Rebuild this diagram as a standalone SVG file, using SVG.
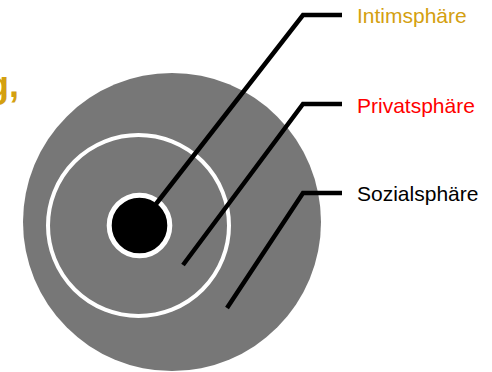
<svg xmlns="http://www.w3.org/2000/svg" width="492" height="372" viewBox="0 0 492 372">
  <style>
    .lbl { font-family: "Liberation Sans", Arial, sans-serif; font-size: 21px; }
    .lead { fill: none; stroke: #000; stroke-width: 4.5; stroke-linejoin: miter; stroke-linecap: butt; }
  </style>
  <rect width="492" height="372" fill="#fff"/>
  <text x="-13" y="97" font-family="Liberation Sans, Arial, sans-serif" font-size="36" font-weight="bold" fill="#D4A010">g,</text>
  <g id="sozialsphaere">
    <circle cx="172" cy="222" r="149" fill="#777777"/>
  </g>
  <g id="privatsphaere">
    <circle cx="138.5" cy="225.5" r="90.5" fill="none" stroke="#fff" stroke-width="4"/>
  </g>
  <g id="intimsphaere">
    <circle cx="139.5" cy="225.5" r="30.3" fill="#000" stroke="#fff" stroke-width="5"/>
  </g>
  <g id="connectors">
    <polyline class="lead" points="156,204 303,15 342,15"/>
    <polyline class="lead" points="183,265 303,104 342,104"/>
    <polyline class="lead" points="227,308 303,193 342,193"/>
  </g>
  <g id="labels">
    <text class="lbl" x="357" y="23" fill="#D4A010">Intimsphäre</text>
    <text class="lbl" x="357" y="112.5" fill="#FF0000">Privatsphäre</text>
    <text class="lbl" x="357" y="201" fill="#000">Sozialsphäre</text>
  </g>
</svg>
